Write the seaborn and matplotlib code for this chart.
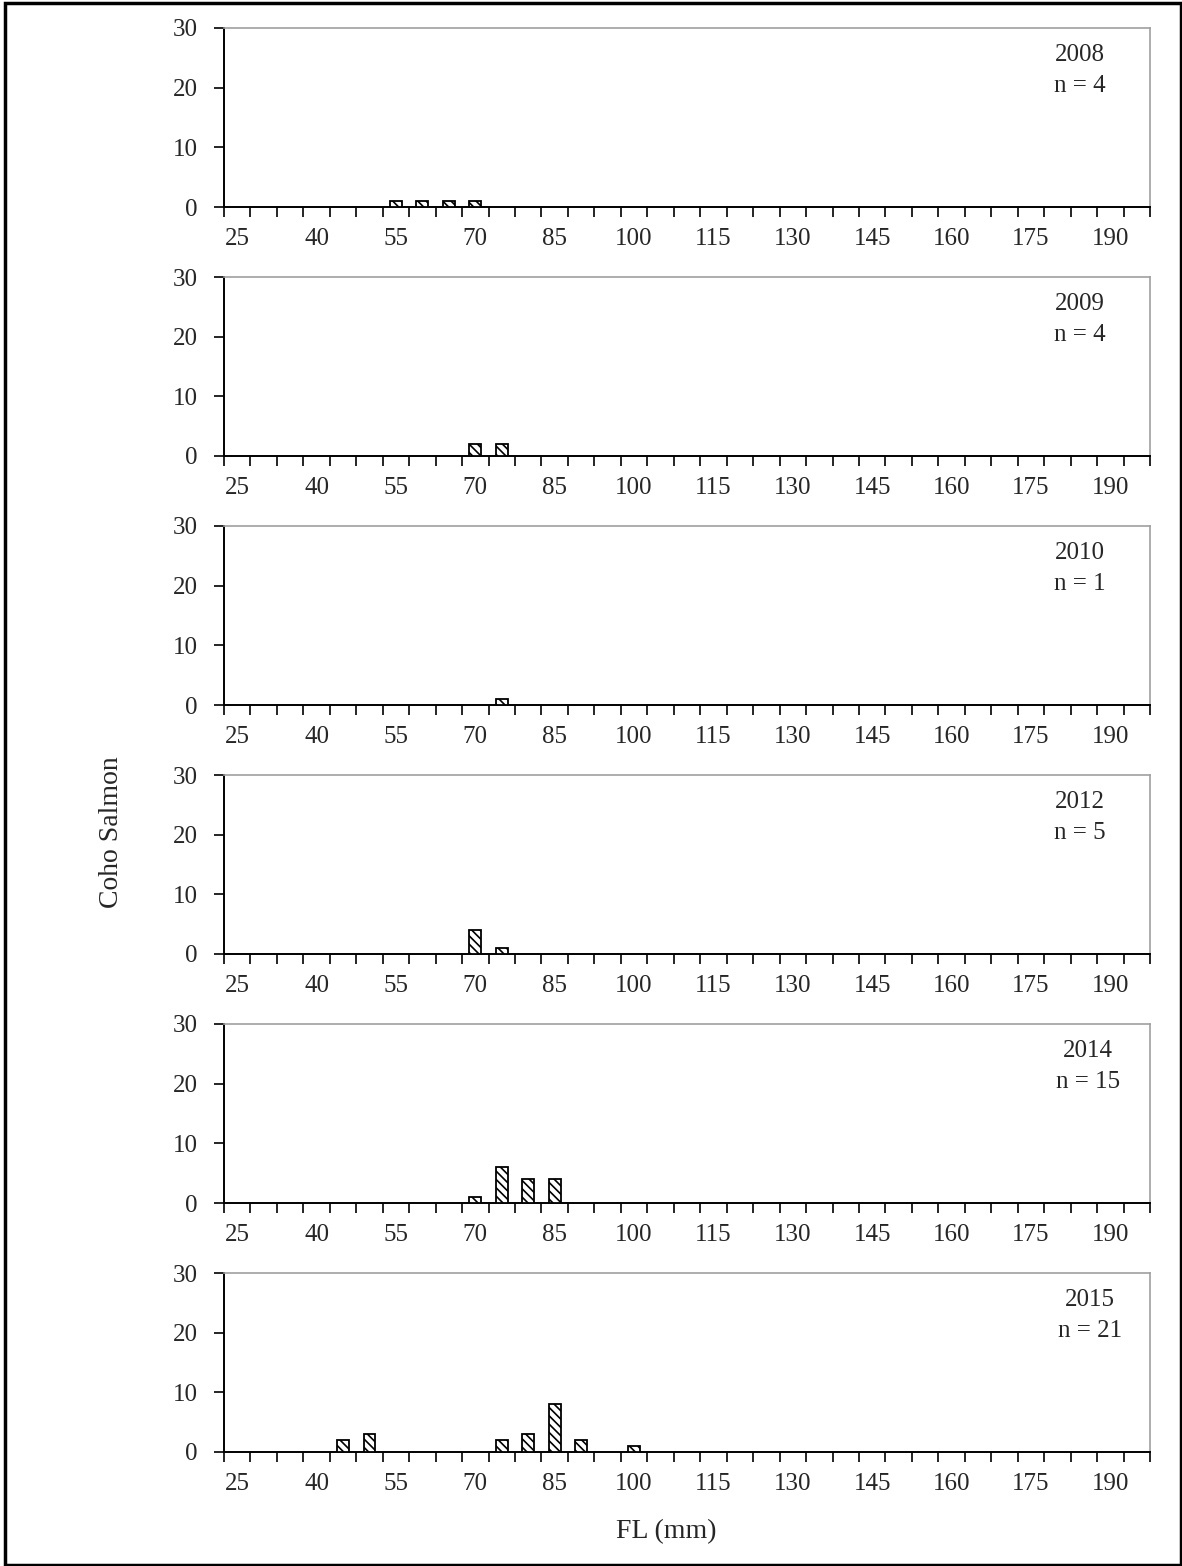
import matplotlib
matplotlib.use("Agg")
import matplotlib.pyplot as plt
from matplotlib.patches import Rectangle
import numpy as np
import pandas as pd
import seaborn as sns

# Fork length classes (mm), 5 mm bins
length_classes = list(range(25, 200, 5))
years = ["2008", "2009", "2010", "2012", "2014", "2015"]
sample_sizes = [4, 4, 1, 5, 15, 21]

# Catch counts per length class for each year
lengths_2008 = [55, 60, 65, 70]
counts_2008 = [1, 1, 1, 1]
lengths_2009 = [70, 75]
counts_2009 = [2, 2]
lengths_2010 = [75]
counts_2010 = [1]
lengths_2012 = [70, 75]
counts_2012 = [4, 1]
lengths_2014 = [70, 75, 80, 85]
counts_2014 = [1, 6, 4, 4]
lengths_2015 = [45, 50, 75, 80, 85, 90, 100]
counts_2015 = [2, 3, 2, 3, 8, 2, 1]

lengths_by_year = [lengths_2008, lengths_2009, lengths_2010,
                   lengths_2012, lengths_2014, lengths_2015]
counts_by_year = [counts_2008, counts_2009, counts_2010,
                  counts_2012, counts_2014, counts_2015]

rows = []
for yr, ls, cs in zip(years, lengths_by_year, counts_by_year):
    for l, c in zip(ls, cs):
        rows.append({"year": yr, "FL": str(l), "count": c})
df = pd.DataFrame(rows)
order = [str(v) for v in length_classes]

sns.set_style("white")
plt.rcParams["font.family"] = "serif"
plt.rcParams["font.serif"] = ["Liberation Serif", "Times New Roman", "DejaVu Serif"]
plt.rcParams["hatch.linewidth"] = 1.2
plt.rcParams["hatch.color"] = "black"

W, H = 1182, 1566
fig = plt.figure(figsize=(W / 100, H / 100), dpi=100)

left = 224 / W
width = (1150 - 224) / W
height = 179 / H
zero_px = [207, 456, 705, 954, 1203, 1452]
label_x = [1080, 1080, 1080, 1080, 1088, 1090]
FS = 18

for i, yr in enumerate(years):
    bottom = 1 - zero_px[i] / H
    ax = fig.add_axes([left, bottom, width, height])
    sub = df[df["year"] == yr]
    sns.barplot(data=sub, x="FL", y="count", order=order, ax=ax,
                color="white", edgecolor="black", linewidth=1.3,
                width=0.45, hatch="\\\\\\\\", errorbar=None, zorder=3)
    ax.set_xlim(-0.5, len(order) - 0.5)
    ax.set_ylim(0, 30)
    ax.set_yticks([0, 10, 20, 30])
    ax.set_yticklabels(["0", "10", "20", "30"])
    ax.set_xticks(range(len(order)))
    ax.set_xticklabels([lab if k % 3 == 0 else "" for k, lab in enumerate(order)])
    ax.set_xticks(np.arange(-0.5, len(order), 1.0), minor=True)
    ax.tick_params(axis="x", which="major", length=0, labelsize=FS, pad=15)
    ax.tick_params(axis="x", which="minor", length=7, width=1.2,
                   direction="out", color="black", bottom=True)
    ax.tick_params(axis="y", length=7, width=1.2, direction="out",
                   left=True, labelsize=FS, pad=12, color="black")
    ax.set_xlabel("")
    ax.set_ylabel("")
    for s in ["left", "bottom"]:
        ax.spines[s].set_color("black")
        ax.spines[s].set_linewidth(1.4)
    for s in ["top", "right"]:
        ax.spines[s].set_visible(True)
        ax.spines[s].set_color("#a0a0a0")
        ax.spines[s].set_linewidth(1.2)
    tx = (label_x[i] - 224) / (1150 - 224)
    ax.text(tx, 0.847, yr, transform=ax.transAxes, ha="center",
            va="center", fontsize=FS)
    ax.text(tx, 0.676, f"n = {sample_sizes[i]}", transform=ax.transAxes,
            ha="center", va="center", fontsize=FS)

fig.text(111 / W, 1 - 832 / H, "Coho Salmon", rotation=90,
         ha="center", va="center", fontsize=20)
fig.text(666 / W, 1 - 1532 / H, "FL (mm)", ha="center", va="center",
         fontsize=20)

fig.patches.append(Rectangle((5 / W, 1 / H), 1 - 6 / W, 1 - 4 / H,
                             transform=fig.transFigure, fill=False,
                             edgecolor="black", linewidth=2.5))

fig.savefig("out.png", dpi=100)
